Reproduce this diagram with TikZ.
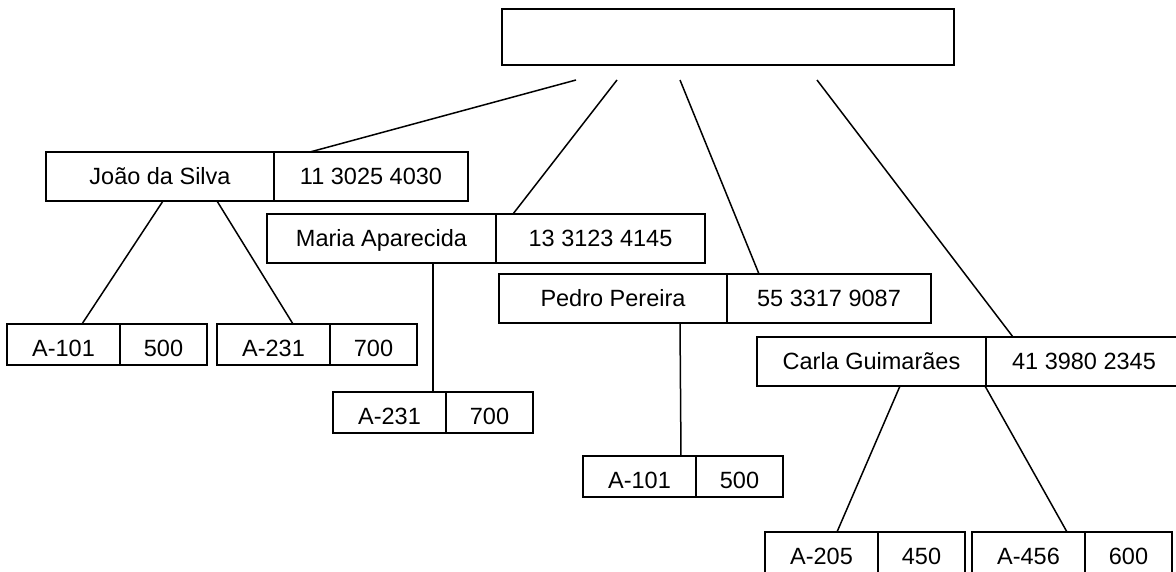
\documentclass[tikz,border=0pt]{standalone}
\usepackage{fontspec}
\setmainfont{Liberation Sans}
\usetikzlibrary{calc}

\begin{document}
\begin{tikzpicture}[x=1pt,y=-1pt,
  cell/.style={draw, line width=1.8pt, rectangle, anchor=north west, inner sep=0pt, outer sep=0pt,
    minimum height=49pt, text height=16.8pt, text depth=0pt, font=\fontsize{23.5}{28}\selectfont},
  low/.style={minimum height=41pt, text height=24pt},
  link/.style={line width=1.5pt}]
\useasboundingbox (0,0) rectangle (1176,572);
\node[cell, minimum width=452pt, minimum height=56pt] (root) at (502,9) {};
\foreach \nm/\x/\y/\who/\tel/\wa/\wb in {joao/46/152/João da Silva/11 3025 4030/228/194,
  maria/267/214/Maria Aparecida/13 3123 4145/229/209,
  pedro/499/274/Pedro Pereira/55 3317 9087/228/204,
  carla/757/337/Carla Guimarães/41 3980 2345/229/196}{
  \node[cell, minimum width=\wa pt] (\nm name) at (\x,\y) {\who};
  \node[cell, minimum width=\wb pt] (\nm tel) at (\nm name.north east) {\tel};
}
\foreach \nm/\x/\y/\code/\val in {a101/7/324/A-101/500, a231/217/324/A-231/700,
  m231/333/392/A-231/700, p101/583/456/A-101/500,
  c205/765/532/A-205/450, c456/972/532/A-456/600}{
  \node[cell, low, minimum width=113pt] (\nm a) at (\x,\y) {\code};
  \node[cell, low, minimum width=87pt] (\nm b) at (\nm a.north east) {\val};
}
\coordinate (r1) at ($(root.south west)+(74,15)$);
\coordinate (r2) at ($(root.south west)+(115,15)$);
\coordinate (r3) at ($(root.south west)+(178,15)$);
\coordinate (r4) at ($(root.south west)+(315,15)$);
\draw[link] (r1) -- ($(joaotel.north west)+(36,0)$);
\draw[link] (r2) -- ($(mariatel.north west)+(17,0)$);
\draw[link] (r3) -- ($(pedrotel.north west)+(32,0)$);
\draw[link] (r4) -- ($(carlatel.north west)+(27,0)$);
\draw[link] ($(joaoname.south west)+(117,0)$) -- ($(a101a.north west)+(75,0)$);
\draw[link] ($(joaoname.south west)+(171,0)$) -- ($(a231a.north west)+(76,0)$);
\draw[link] ($(marianame.south west)+(166,0)$) -- ($(m231a.north west)+(100,0)$);
\draw[link] ($(pedroname.south west)+(181,0)$) -- ($(p101a.north west)+(98,0)$);
\draw[link] ($(carlaname.south west)+(143,0)$) -- ($(c205a.north west)+(72,0)$);
\draw[link] ($(carlaname.south west)+(228,0)$) -- ($(c456a.north west)+(95,0)$);
\end{tikzpicture}
\end{document}
